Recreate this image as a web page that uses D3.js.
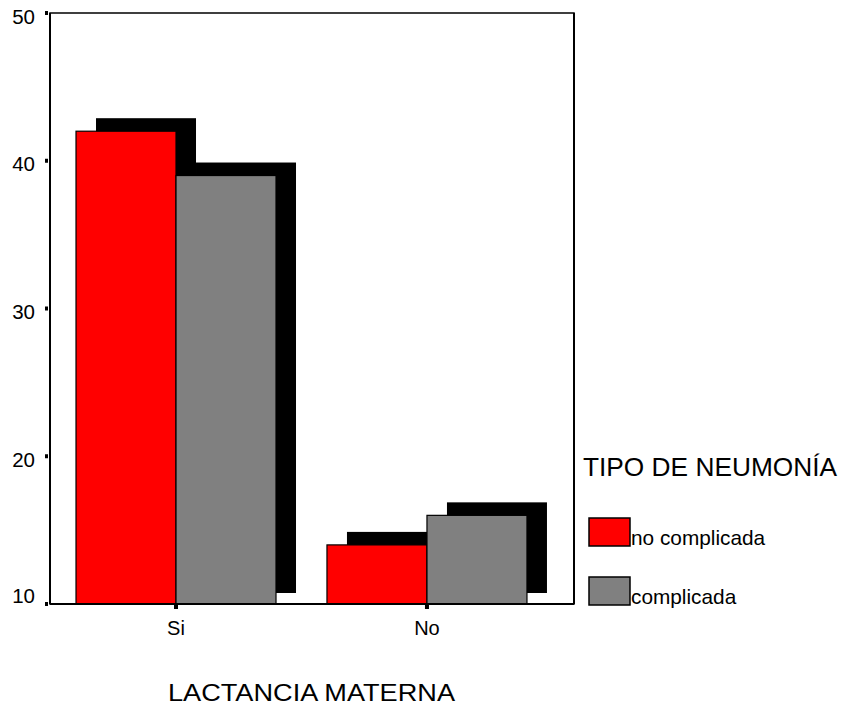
<!DOCTYPE html>
<html>
<head>
<meta charset="utf-8">
<script src="https://cdn.jsdelivr.net/npm/d3@7"></script>
<style>
  html, body { margin: 0; padding: 0; background: #fff; }
  svg { display: block; font-family: "Liberation Sans", Arial, sans-serif; }
</style>
</head>
<body>
<svg id="chart" width="842" height="710"></svg>
<script>
// Grouped bars: breastfeeding (LACTANCIA MATERNA) by pneumonia type
const categories = ["Si", "No"];
const seriesNames = ["no complicada", "complicada"];
const noComplicada = [42, 14];
const complicada = [39, 16];
const seriesValues = [noComplicada, complicada];
const seriesColors = ["#ff0000", "#808080"];
const yTicks = [10, 20, 30, 40, 50];
const xTitle = "LACTANCIA MATERNA";
const legendTitle = "TIPO DE NEUMONÍA";

const svg = d3.select("#chart");

const plot = { left: 50, right: 574, top: 13, bottom: 604 };

const y = d3.scaleLinear().domain([10, 50]).range([plot.bottom, plot.top]);
const x = d3.scalePoint().domain(categories)
  .range([plot.left, plot.right]).padding(0.544).align(0.4615);
const inner = d3.scaleBand().domain(seriesNames).range([-100, 100]);

const shadowDx = 20, shadowDy = -13, shadowBottomLift = 11;

// Plot frame
svg.append("rect")
  .attr("x", plot.left).attr("y", plot.top)
  .attr("width", plot.right - plot.left).attr("height", plot.bottom - plot.top)
  .attr("fill", "#fff").attr("stroke", "#000").attr("stroke-width", 1.5);

// Drop shadows first, then bars on top
const bars = [];
categories.forEach((c, ci) => {
  seriesNames.forEach((s, si) => {
    bars.push({ cat: c, series: s, value: seriesValues[si][ci], color: seriesColors[si] });
  });
});

svg.append("g").selectAll("rect").data(bars).join("rect")
  .attr("x", d => x(d.cat) + inner(d.series) + shadowDx)
  .attr("y", d => y(d.value) + shadowDy)
  .attr("width", inner.bandwidth())
  .attr("height", d => (y(10) - shadowBottomLift) - (y(d.value) + shadowDy))
  .attr("fill", "#000");

svg.append("g").selectAll("rect").data(bars).join("rect")
  .attr("x", d => x(d.cat) + inner(d.series))
  .attr("y", d => y(d.value))
  .attr("width", inner.bandwidth())
  .attr("height", d => y(10) - y(d.value))
  .attr("fill", d => d.color)
  .attr("stroke", "#000").attr("stroke-width", 1.2);

// Axis lines (bottom one heavier)
svg.append("line")
  .attr("x1", plot.left).attr("x2", plot.right)
  .attr("y1", plot.bottom).attr("y2", plot.bottom)
  .attr("stroke", "#000").attr("stroke-width", 2.2);
svg.append("line")
  .attr("x1", plot.left).attr("x2", plot.left)
  .attr("y1", plot.top).attr("y2", plot.bottom)
  .attr("stroke", "#000").attr("stroke-width", 2);
svg.append("line")
  .attr("x1", plot.right).attr("x2", plot.right)
  .attr("y1", plot.top).attr("y2", plot.bottom)
  .attr("stroke", "#000").attr("stroke-width", 2);

// Y ticks: small square markers and labels
const yAxis = svg.append("g");
yAxis.selectAll("rect").data(yTicks).join("rect")
  .attr("x", plot.left - 5).attr("y", d => y(d) - 2)
  .attr("width", 3).attr("height", 4).attr("fill", "#000");
yAxis.selectAll("text").data(yTicks).join("text")
  .attr("x", 35)
  .attr("y", d => Math.min(y(d) + 10.5, plot.bottom - 1.5))
  .attr("text-anchor", "end")
  .attr("font-size", 20.5)
  .text(d => d);

// X ticks and labels
const xAxis = svg.append("g");
xAxis.selectAll("rect").data(categories).join("rect")
  .attr("x", d => x(d) - 2).attr("y", plot.bottom)
  .attr("width", 4).attr("height", 5).attr("fill", "#000");
xAxis.selectAll("text").data(categories).join("text")
  .attr("x", d => x(d))
  .attr("y", 635)
  .attr("text-anchor", "middle")
  .attr("font-size", 20)
  .text(d => d);

svg.append("text")
  .attr("x", 168).attr("y", 701)
  .attr("font-size", 23)
  .attr("textLength", 287)
  .attr("lengthAdjust", "spacingAndGlyphs")
  .text(xTitle);

// Legend
svg.append("text")
  .attr("x", 583).attr("y", 476)
  .attr("font-size", 25)
  .attr("textLength", 254)
  .attr("lengthAdjust", "spacingAndGlyphs")
  .text(legendTitle);

const legend = svg.append("g").selectAll("g").data(seriesNames).join("g")
  .attr("transform", (d, i) => `translate(589, ${518 + i * 59})`);
legend.append("rect")
  .attr("width", 41).attr("height", 28)
  .attr("fill", (d, i) => seriesColors[i])
  .attr("stroke", "#000").attr("stroke-width", 1.5);
legend.append("text")
  .attr("x", 42).attr("y", 27)
  .attr("font-size", 20.8)
  .text(d => d);
</script>
</body>
</html>
